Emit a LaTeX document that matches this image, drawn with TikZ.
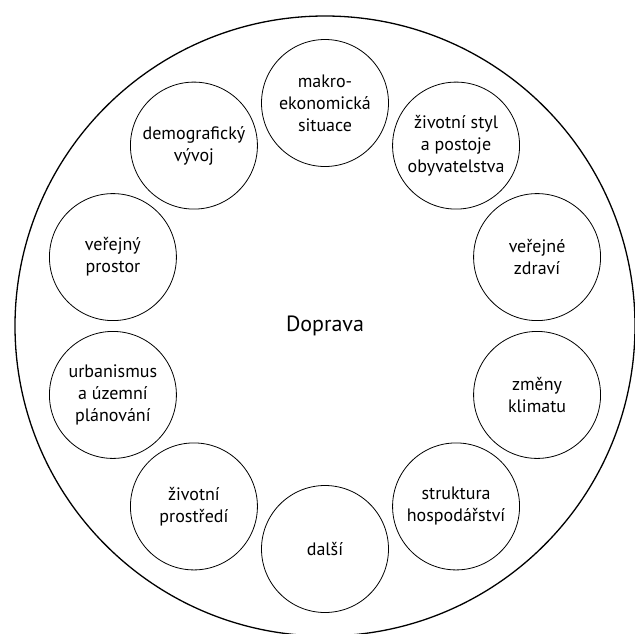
\documentclass[tikz,border=0pt]{standalone}
\usepackage{fontspec}
\setmainfont{PT Sans}
\begin{document}
\begin{tikzpicture}[x=1pt,y=-1pt,
  factor/.style={circle,draw,line width=0.8pt,minimum size=127pt,inner sep=0pt,align=center,font=\fontsize{18}{22}\selectfont},
  outer/.style={circle,draw,line width=1.3pt,minimum size=620pt,inner sep=0pt},
  title/.style={font=\fontsize{22}{26}\selectfont}]
\useasboundingbox (0,0) rectangle (635,633);
\node[outer] (big) at (325,326) {};
\node[title] (center) at (325,326) {Doprava};
\def\R{223}
\node[factor] (f0) at ({325+\R*sin(0)},{326-\R*cos(0)}) {makro-\\ekonomická\\situace};
\node[factor] (f1) at ({325+\R*sin(36)},{326-\R*cos(36)}) {životní styl\\a postoje\\obyvatelstva};
\node[factor] (f2) at ({325+\R*sin(72)},{326-\R*cos(72)}) {veřejné\\zdraví};
\node[factor] (f3) at ({325+\R*sin(108)},{326-\R*cos(108)}) {změny\\klimatu};
\node[factor] (f4) at ({325+\R*sin(144)},{326-\R*cos(144)}) {struktura\\hospodářství};
\node[factor] (f5) at ({325+\R*sin(180)},{326-\R*cos(180)}) {další};
\node[factor] (f6) at ({325+\R*sin(216)},{326-\R*cos(216)}) {životní\\prostředí};
\node[factor] (f7) at ({325+\R*sin(252)},{326-\R*cos(252)}) {urbanismus\\a územní\\plánování};
\node[factor] (f8) at ({325+\R*sin(288)},{326-\R*cos(288)}) {veřejný\\prostor};
\node[factor] (f9) at ({325+\R*sin(324)},{326-\R*cos(324)}) {demografický\\vývoj};
\end{tikzpicture}
\end{document}
